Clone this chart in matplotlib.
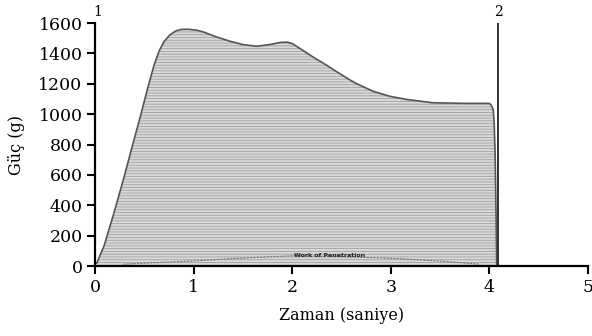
import matplotlib
matplotlib.use("Agg")
import matplotlib.pyplot as plt

# Force curve (time in s, force in g)
time_s = [0.017, 0.09, 0.19, 0.29, 0.37, 0.46, 0.54, 0.60, 0.65, 0.70, 0.76, 0.82, 0.88, 0.94, 1.03,
          1.10, 1.23, 1.37, 1.50, 1.64, 1.77, 1.88, 1.95, 2.00, 2.08, 2.21, 2.35, 2.48, 2.59,
          2.65, 2.82, 2.99, 3.16, 3.43, 3.77, 4.00, 4.02, 4.04, 4.05, 4.06, 4.07, 4.075, 4.08]
force_g = [18, 130, 345, 575, 770, 985, 1185, 1325, 1415, 1478, 1522, 1548, 1558, 1559, 1553,
           1541, 1509, 1480, 1458, 1447, 1458, 1472, 1474, 1465, 1432, 1377, 1322, 1268, 1224,
           1202, 1151, 1118, 1097, 1075, 1071, 1071, 1060, 1030, 938, 719, 283, 20, 0]

# Work of penetration inner curve
wop_t = [0.29, 0.96, 1.47, 2.0, 2.5, 2.99, 3.5, 3.9]
wop_g = [13, 33, 52, 68, 62, 52, 33, 13]

end_time = 4.09
xticks = [0, 1, 2, 3, 4, 5]
yticks = [0, 200, 400, 600, 800, 1000, 1200, 1400, 1600]

plt.rcParams['hatch.color'] = '#9a9a9a'
plt.rcParams['hatch.linewidth'] = 0.6

fig = plt.figure(figsize=(5.92, 3.36), dpi=100)
ax = fig.add_axes([0.1605, 0.208, 0.8325, 0.7235])

ax.fill_between(time_s, force_g, 0, facecolor='#d9d9d9', edgecolor='#a0a0a0',
                hatch='------', linewidth=0)
ax.plot(time_s, force_g, color='#555555', linewidth=1.2)
ax.plot(wop_t, wop_g, color='#777777', linewidth=0.8, linestyle=(0, (2, 1)))
ax.text(2.38, 68, 'Work of Penetration', fontsize=4.5, fontweight='bold',
        ha='center', va='center', family='DejaVu Sans', color='#222222')

ax.vlines(end_time, 0, 1600, color='#222222', linewidth=1.3)
ax.text(end_time, 1625, '2', ha='center', va='bottom', fontsize=10, family='DejaVu Serif')
ax.text(0.03, 1625, '1', ha='center', va='bottom', fontsize=10, family='DejaVu Serif')

ax.set_xlim(0, 5)
ax.set_ylim(0, 1600)
ax.set_xticks(xticks)
ax.set_yticks(yticks)
for s in ['top', 'right']:
    ax.spines[s].set_visible(False)
for s in ['left', 'bottom']:
    ax.spines[s].set_linewidth(1.6)
ax.tick_params(direction='out', length=6, width=1.5, labelsize=12.5, pad=3)
for lab in ax.get_xticklabels() + ax.get_yticklabels():
    lab.set_family('DejaVu Serif')
ax.set_xlabel('Zaman (saniye)', fontsize=11.5, family='DejaVu Serif', labelpad=8)
ax.set_ylabel('Güç (g)', fontsize=11.5, family='DejaVu Serif', labelpad=10)

fig.savefig('out.png', dpi=100)
